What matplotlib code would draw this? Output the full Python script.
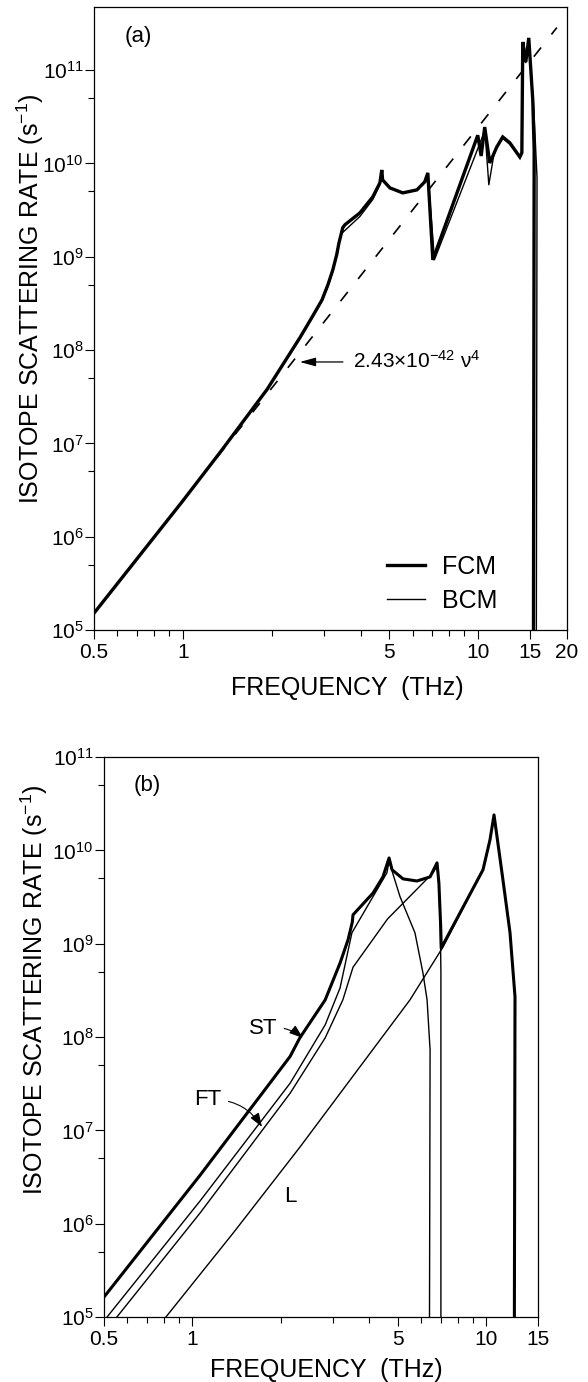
import matplotlib
matplotlib.use('Agg')
import matplotlib.pyplot as plt
from matplotlib.ticker import NullFormatter

plt.rcParams['font.family'] = ['Liberation Sans', 'DejaVu Sans']
plt.rcParams['mathtext.fontset'] = 'custom'
plt.rcParams['mathtext.rm'] = 'Liberation Sans'
plt.rcParams['mathtext.it'] = 'Liberation Sans:italic'
plt.rcParams['mathtext.bf'] = 'Liberation Sans:bold'

# ---- panel (a): FCM / BCM, frequency in THz, rate in 1/s
fcm_f = [0.5, 1.0, 1.34, 1.93, 2.5, 2.75, 2.96, 3.1, 3.22, 3.32, 3.38, 3.48, 3.54, 3.98,
         4.40, 4.65, 4.72, 4.75, 5.03, 5.56, 6.21, 6.60, 6.76, 7.03, 9.98, 10.25, 10.54,
         10.96, 11.58, 12.13, 12.82, 13.86, 14.08, 14.18, 14.52, 14.86, 15.33, 15.5, 15.4]
fcm_r = [1.52e5, 2.43e6, 8.1e6, 3.8e7, 1.38e8, 2.3e8, 3.44e8, 5.0e8, 7.2e8, 1.05e9, 1.41e9,
         2.04e9, 2.2e9, 2.95e9, 4.38e9, 6.18e9, 8.5e9, 6.65e9, 5.46e9, 4.83e9, 5.2e9, 6.34e9,
         7.9e9, 9.25e8, 2.0e10, 1.2e10, 2.45e10, 1.01e10, 1.5e10, 1.92e10, 1.66e10, 1.17e10,
         1.3e10, 2.0e11, 1.22e11, 2.21e11, 4.8e10, 1.4e10, 1e4]

bcm_f = [0.5, 1.0, 1.34, 1.93, 2.5, 2.75, 2.96, 3.1, 3.22, 3.36, 3.44, 3.50, 3.98, 4.40,
         4.65, 4.72, 4.75, 5.03, 5.56, 6.21, 6.60, 6.76, 7.12, 10.3, 10.55, 10.88, 11.3,
         11.58, 12.13, 12.82, 13.86, 14.08, 14.18, 14.52, 14.86, 15.45, 15.85, 15.75]
bcm_r = [1.52e5, 2.43e6, 8.1e6, 3.8e7, 1.36e8, 2.25e8, 3.35e8, 4.8e8, 7.0e8, 1.3e9, 1.75e9,
         1.85e9, 2.7e9, 4.1e9, 5.9e9, 8.3e9, 6.6e9, 5.4e9, 4.8e9, 5.15e9, 6.3e9, 7.8e9,
         9.3e8, 1.85e10, 2.3e10, 5.9e9, 1.2e10, 1.5e10, 1.85e10, 1.6e10, 1.15e10, 1.3e10,
         1.9e11, 1.2e11, 2.1e11, 4.0e10, 7e9, 1e4]

# 2.43e-42 nu^4 reference line (end points)
nu4_f = [1.31, 18.5]
nu4_r = [7.2e6, 2.85e11]

# ---- panel (b): total and branch contributions
tot_f = [0.5, 1.061, 2.15, 2.32, 2.83, 3.18, 3.385, 3.50, 3.52, 4.12, 4.45, 4.67, 4.78, 5.21,
         5.81, 6.44, 6.80, 6.90, 7.0, 7.03, 9.75, 10.3, 10.63, 11.40, 12.05, 12.53, 12.45]
tot_r = [1.64e5, 3.3e6, 6.2e7, 9.8e7, 2.5e8, 6.2e8, 1.1e9, 1.7e9, 2.04e9, 3.5e9, 5.2e9, 8.3e9,
         6.2e9, 4.95e9, 4.7e9, 5.2e9, 7.35e9, 4.5e9, 1.5e9, 9.0e8, 6.2e9, 1.3e10, 2.4e10,
         4.83e9, 1.31e9, 2.7e8, 1e4]

st_f = [0.512, 1.061, 2.15, 2.83, 3.18, 3.49, 4.59, 4.67, 5.09, 5.72, 6.09, 6.29, 6.44, 6.40]
st_r = [1e5, 1.75e6, 3.2e7, 1.35e8, 3.36e8, 1.31e9, 5.74e9, 7.6e9, 3.18e9, 1.31e9, 4.86e8,
        2.5e8, 7.3e7, 1e4]

ft_f = [0.553, 1.061, 2.15, 2.83, 3.25, 3.52, 4.59, 4.62, 6.59, 6.80, 6.90, 6.98, 7.01, 7.01]
ft_r = [1e5, 1.3e6, 2.5e7, 9.8e7, 2.5e8, 5.6e8, 1.8e9, 1.85e9, 5.74e9, 6.8e9, 4.2e9, 1.4e9,
        5e8, 1e4]

l_f = [0.812, 1.374, 2.32, 5.50, 7.13, 9.75, 10.3, 10.63, 11.40, 12.05, 12.53, 12.45]
l_r = [1e5, 7.9e5, 6.6e6, 2.5e8, 9.25e8, 6.2e9, 1.3e10, 2.4e10, 4.83e9, 1.31e9, 2.7e8, 1e4]

xmajor_a = [0.5, 1, 5, 10, 15, 20]
xmajor_b = [0.5, 1, 5, 10, 15]
xminor = [0.6, 0.7, 0.8, 0.9, 2, 3, 4, 6, 7, 8, 9]
decades = [5, 6, 7, 8, 9, 10, 11]


def setup(ax, xmaj, xlim, ylim):
    ax.set_xscale('log')
    ax.set_yscale('log')
    ax.set_xticks(xmaj, ['%g' % v for v in xmaj])
    ax.set_xticks(xminor, minor=True)
    ax.xaxis.set_minor_formatter(NullFormatter())
    ax.set_yticks([10.0 ** k for k in decades], [r'$10^{%d}$' % k for k in decades])
    ax.set_yticks([5 * 10.0 ** k for k in decades], minor=True)
    ax.yaxis.set_minor_formatter(NullFormatter())
    # limits after the ticks, set_ticks would widen them
    ax.set_xlim(xlim)
    ax.set_ylim(ylim)
    ax.tick_params(which='both', direction='out', top=False, right=False, width=0.8)
    ax.tick_params(which='major', length=6.5, labelsize=15)
    ax.tick_params(which='minor', length=4.5)
    ax.tick_params(axis='y', pad=1)
    ax.tick_params(axis='x', pad=3)
    for s in ax.spines.values():
        s.set_linewidth(0.9)


fig = plt.figure(figsize=(5.88, 13.82), dpi=100)

# ---------------- (a)
ax1 = fig.add_axes([0.160, 0.5441, 0.804, 0.4508])
ax1.plot(bcm_f, bcm_r, color='k', lw=1.0, label='BCM')
ax1.plot(fcm_f, fcm_r, color='k', lw=2.4, label='FCM', solid_joinstyle='miter')
ax1.plot(nu4_f, nu4_r, color='k', lw=1.2, dashes=(7, 10))
setup(ax1, xmajor_a, (0.5, 20), (1e5, 4.73e11))
h, lab = ax1.get_legend_handles_labels()
ax1.legend([h[1], h[0]], [lab[1], lab[0]], loc='center left', bbox_to_anchor=(0.619, 0.0738),
           frameon=False, fontsize=18, handlelength=1.52, handletextpad=0.68,
           labelspacing=0.4, borderpad=0, borderaxespad=0)
ax1.text(0.093, 0.952, '(a)', transform=ax1.transAxes, fontsize=16, ha='center', va='center')
ax1.text(0.5476, 0.4205, u'2.43\u00d710$^{-42}$ \u03bd$^{4}$', transform=ax1.transAxes,
         fontsize=15, ha='left', va='baseline')
ax1.annotate('', xy=(2.49, 7.45e7), xytext=(3.485, 7.45e7),
             arrowprops=dict(arrowstyle='-|>,head_length=0.8,head_width=0.22', color='k',
                             lw=0.9, shrinkA=0, shrinkB=0, mutation_scale=12))
ax1.set_xlabel('FREQUENCY  (THz)', fontsize=18)
ax1.xaxis.set_label_coords(0.535, -0.093)
ax1.xaxis.label.set_va('center')
ax1.set_ylabel('ISOTOPE SCATTERING RATE (s$^{-1}$)', fontsize=18)
ax1.yaxis.set_label_coords(-0.1353, 0.5313)
ax1.yaxis.label.set_va('center')

# ---------------- (b)
ax2 = fig.add_axes([0.1769, 0.0470, 0.738, 0.4052])
ax2.plot(l_f, l_r, color='k', lw=1.0)
ax2.plot(ft_f, ft_r, color='k', lw=1.0)
ax2.plot(st_f, st_r, color='k', lw=1.0)
ax2.plot(tot_f, tot_r, color='k', lw=2.2)
setup(ax2, xmajor_b, (0.5, 15), (1e5, 1e11))
ax2.text(0.099, 0.95, '(b)', transform=ax2.transAxes, fontsize=16, ha='center', va='center')
ax2.annotate('ST', xy=(2.378, 9.77e7), xytext=(1.739, 1.22e8), fontsize=16,
             ha='center', va='center',
             arrowprops=dict(arrowstyle='-|>,head_length=0.7,head_width=0.25', color='k',
                             lw=0.8, shrinkA=3, shrinkB=0, mutation_scale=12,
                             connectionstyle='arc3,rad=-0.25'))
ax2.annotate('FT', xy=(1.725, 1.09e7), xytext=(1.13, 2.12e7), fontsize=16,
             ha='center', va='center',
             arrowprops=dict(arrowstyle='-|>,head_length=0.7,head_width=0.25', color='k',
                             lw=0.8, shrinkA=3, shrinkB=0, mutation_scale=12,
                             connectionstyle='arc3,rad=-0.3'))
ax2.text(2.148, 1.98e6, 'L', fontsize=16, ha='center', va='center')
ax2.set_xlabel('FREQUENCY  (THz)', fontsize=18)
ax2.xaxis.set_label_coords(0.512, -0.095)
ax2.xaxis.label.set_va('center')
ax2.set_ylabel('ISOTOPE SCATTERING RATE (s$^{-1}$)', fontsize=18)
ax2.yaxis.set_label_coords(-0.1613, 0.584)
ax2.yaxis.label.set_va('center')

fig.savefig('out.png', dpi=100)
